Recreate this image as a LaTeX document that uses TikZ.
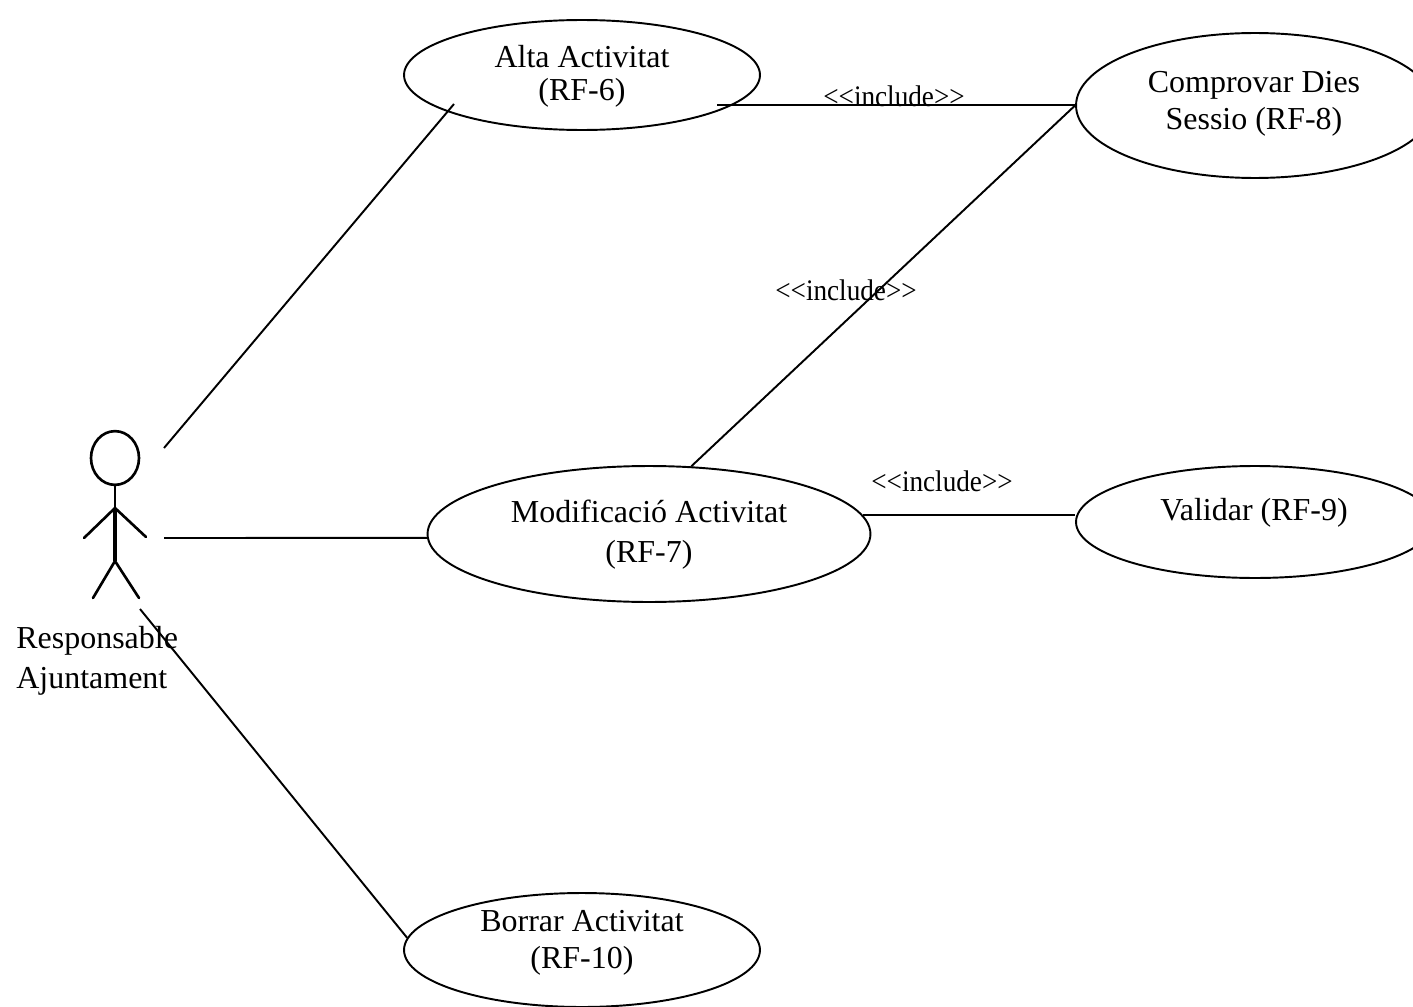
\documentclass[tikz,border=0pt]{standalone}
\usepackage{fontspec}
\setmainfont{Liberation Serif}
\tikzset{
  usecase/.style={ellipse, draw=black, line width=1.1pt, inner sep=0pt},
  usecase-text/.style={align=center, font=\fontsize{18.2}{20.8}\selectfont, inner sep=0pt},
  stereotype/.style={font=\fontsize{17}{19}\selectfont, inner sep=0pt, transform shape, xscale=0.91},
  link/.style={line width=1.1pt, draw=black},
  stick/.style={line width=1.5pt, draw=black, line cap=round},
  stick-thick/.style={line width=2.4pt, draw=black}
}
\usetikzlibrary{shapes.geometric}
\newcommand{\incl}{{<}{<}include{>}{>}}

\begin{document}
\begin{tikzpicture}[x=0.02cm, y=-0.02cm]
  \useasboundingbox (0,0) rectangle (1413,1007);
  \clip (0,0) rectangle (1413,1007);

  % Use cases
  \node[usecase, minimum width=7.12cm, minimum height=2.2cm] (alta) at (582,75) {};
  \node[usecase, minimum width=8.86cm, minimum height=2.72cm] (modif) at (649,534) {};
  \node[usecase, minimum width=7.16cm, minimum height=2.9cm] (comprovar) at (1255,105.5) {};
  \node[usecase, minimum width=7.16cm, minimum height=2.24cm] (validar) at (1255,522) {};
  \node[usecase, minimum width=7.12cm, minimum height=2.28cm] (borrar) at (582,950) {};

  % Labels
  \node[usecase-text] (alta-text) at (582,76.5) {Alta Activitat\\[-2pt](RF-6)};
  \node[usecase-text] (modif-text) at (649,535) {Modificació Activitat\\[2pt](RF-7)};
  \node[usecase-text] (comprovar-text) at (1254,104) {Comprovar Dies\\Sessio (RF-8)};
  \node[usecase-text] (validar-text) at (1254,513) {Validar (RF-9)};
  \node[usecase-text] (borrar-text) at (582,943) {Borrar Activitat\\(RF-10)};
  \node[usecase-text, align=left, anchor=west] (actor-text) at (16,660.5) {Responsable\\[2pt]Ajuntament};

  % Actor
  \node[circle, draw=black, line width=1.5pt, minimum width=0.96cm, inner sep=0pt, yscale=1.12] (head) at (115,458) {};
  \coordinate (shoulder) at (115,508);
  \coordinate (hip) at (115,561);
  \coordinate (hand-l) at (84,538);
  \coordinate (hand-r) at (146,537);
  \coordinate (foot-l) at (93,598);
  \coordinate (foot-r) at (139,598);
  \draw[stick] (head.south) -- (shoulder);
  \draw[stick-thick] (shoulder) -- (hip);
  \draw[stick] (hand-l) -- (shoulder) -- (hand-r);
  \draw[stick] (foot-l) -- (hip) -- (foot-r);

  % Connectors
  \coordinate (actor-top) at (164,448);
  \coordinate (actor-mid) at (164,538);
  \coordinate (actor-low) at (140,609);
  \coordinate (alta-end) at (454,104);
  \coordinate (include-start) at (717,105);
  \draw[link] (actor-top) -- (alta-end);
  \draw[link] (actor-mid) -- (modif.181);
  \draw[link] (actor-low) -- (borrar.176);
  \draw[link] (include-start) -- (include-start -| comprovar.west);
  \draw[link] (modif.58) -- (comprovar.west);
  \draw[link] (modif.5.4) -- (modif.5.4 -| validar.west);

  % Stereotypes
  \node[stereotype] (include-a) at (894,96) {\incl};
  \node[stereotype] (include-b) at (846,290) {\incl};
  \node[stereotype] (include-c) at (942,481) {\incl};
\end{tikzpicture}
\end{document}
